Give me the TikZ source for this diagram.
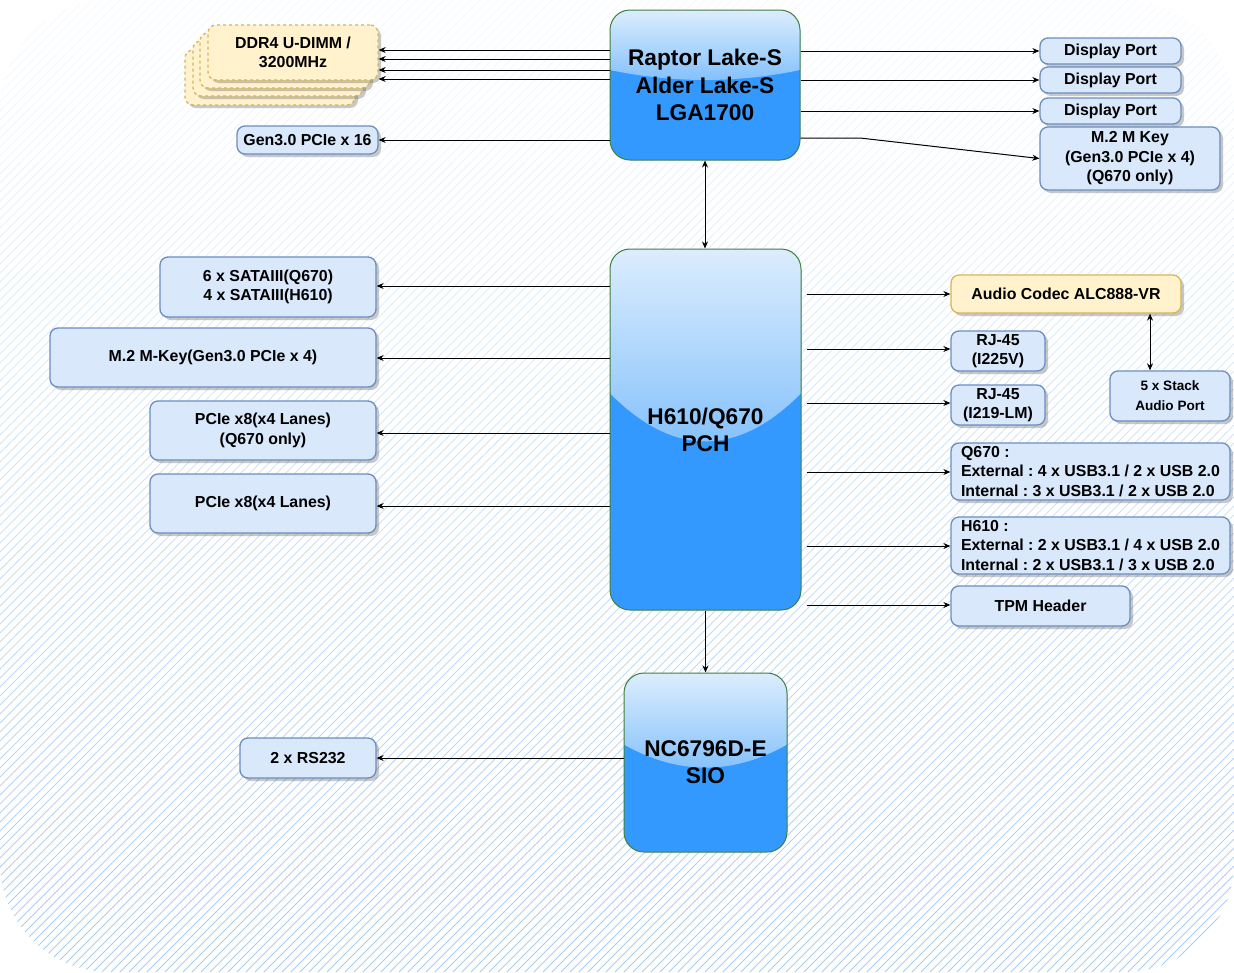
\documentclass[tikz,border=0pt]{standalone}
\usepackage{fontspec}
\setmainfont{Liberation Sans}
\usetikzlibrary{arrows.meta,shadows,calc}
\frenchspacing
\definecolor{boxfill}{HTML}{DAE8FC}
\definecolor{boxline}{HTML}{6C8EBF}
\definecolor{ylwfill}{HTML}{FFF2CC}
\definecolor{ylwline}{HTML}{D6B656}
\definecolor{chipblue}{HTML}{3399FF}
\definecolor{chipline}{HTML}{3F7F3F}
\definecolor{glasstop}{HTML}{DCEDFD}
\definecolor{glassbot}{HTML}{80BFFC}
\definecolor{hatch}{HTML}{A9CCF2}
\tikzset{
  shd/.style={drop shadow={shadow xshift=3pt,shadow yshift=-3pt,opacity=0.3,fill=black!70}},
  bx/.style={draw=boxline, fill=boxfill, line width=1.3pt, rounded corners=8pt, shd,
    font=\bfseries\fontsize{15.9}{19.5}\selectfont, align=center, inner sep=0pt},
  ylw/.style={draw=ylwline, fill=ylwfill, line width=1.3pt, rounded corners=8pt, shd,
    font=\bfseries\fontsize{15.9}{19.5}\selectfont, align=center, inner sep=0pt},
  chip/.style={draw=chipline, line width=1pt, fill=chipblue, rounded corners=20pt,
    font=\bfseries\fontsize{22.7}{27.2}\selectfont, align=center, inner sep=0pt,
    path picture={
      \coordinate (gA) at ($(path picture bounding box.north west)!0.4!(path picture bounding box.south west)$);
      \coordinate (gB) at ($(path picture bounding box.north east)!0.4!(path picture bounding box.south east)$);
      \fill[sharp corners, top color=glasstop, bottom color=glassbot]
        (path picture bounding box.north west) -- (path picture bounding box.north east) -- (gB)
        .. controls ($(gB)!0.333!(gA)+(0,{4*#1/3})$) and ($(gA)!0.333!(gB)+(0,{4*#1/3})$) .. (gA) -- cycle;
    }},
  arr/.style={-{Stealth[length=7pt,width=6pt]}, line width=1pt, black},
  arrb/.style={{Stealth[length=7pt,width=6pt]}-{Stealth[length=7pt,width=6pt]}, line width=1pt, black},
}
\begin{document}
\begin{tikzpicture}[x=1pt,y=-1pt]
\useasboundingbox (0,0) rectangle (1234,972);
\fill[white] (0,0) rectangle (1234,972);
% hatched background with vertical fade
\begin{scope}
  \clip[rounded corners=110pt] (0,0) rectangle (1234,972);
  \foreach \i in {0,...,17}{
    \pgfmathsetmacro{\yA}{\i*54}
    \pgfmathsetmacro{\yB}{\i*54+54}
    \pgfmathtruncatemacro{\pct}{10+90*\i/17}
    \begin{scope}
      \clip (0,\yA) rectangle (1234,\yB);
      \foreach \x in {-60,-51,...,1300}{
        \draw[hatch!\pct!white, line width=1pt] (\x,\yB) -- (\x+54,\yA);
      }
    \end{scope}
  }
\end{scope}

% chips
\node[chip=10, minimum width=190pt, minimum height=150pt] (cpu) at (705,85) {Raptor Lake-S\\Alder Lake-S\\LGA1700};
\node[chip=48, minimum width=191pt, minimum height=361pt] (pch) at (705.5,429.5) {H610/Q670\\PCH};
\node[chip=23, minimum width=163pt, minimum height=179pt] (sio) at (705.5,762.5) {NC6796D-E\\SIO};

% DDR stack
\node[ylw, dashed, minimum width=170pt, minimum height=55pt] (ddrc) at (270,77.5) {};
\node[ylw, dashed, minimum width=170pt, minimum height=55pt] (ddrb) at (278,68.5) {};
\node[ylw, dashed, minimum width=170pt, minimum height=55pt] (ddra) at (285,60.5) {};
\node[ylw, dashed, minimum width=170pt, minimum height=55pt] (ddr) at (293,52.5) {DDR4 U-DIMM /\\3200MHz};

% left boxes
\node[bx, minimum width=141pt, minimum height=28pt] (g16) at (307.5,140) {Gen3.0 PCIe x 16};
\node[bx, minimum width=216pt, minimum height=60pt] (sata) at (268,287) {6 x SATAIII(Q670)\\4 x SATAIII(H610)};
\node[bx, minimum width=326pt, minimum height=59pt] (m2l) at (213,357.5) {M.2 M-Key(Gen3.0 PCIe x 4)};
\node[bx, minimum width=226pt, minimum height=59pt] (pq) at (263,430.5) {PCIe x8(x4 Lanes)\\(Q670 only)};
\node[bx, minimum width=226pt, minimum height=59pt] (p8) at (263,503.5) {PCIe x8(x4 Lanes)};
\node[bx, minimum width=136pt, minimum height=40pt] (rs) at (308,758) {2 x RS232};

% right boxes
\node[bx, minimum width=141pt, minimum height=26pt] (dp1) at (1110.5,51) {Display Port};
\node[bx, minimum width=141pt, minimum height=26pt] (dp2) at (1110.5,80) {Display Port};
\node[bx, minimum width=141pt, minimum height=26pt] (dp3) at (1110.5,111) {Display Port};
\node[bx, minimum width=180pt, minimum height=63pt] (m2r) at (1130,158.5) {M.2 M Key\\(Gen3.0 PCIe x 4)\\(Q670 only)};
\node[ylw, minimum width=230pt, minimum height=38pt] (audio) at (1066,294) {Audio Codec ALC888-VR};
\node[bx, minimum width=94pt, minimum height=40pt] (rj1) at (998,351) {RJ-45\\(I225V)};
\node[bx, minimum width=94pt, minimum height=40pt] (rj2) at (998,405) {RJ-45\\(I219-LM)};
\node[bx, minimum width=120pt, minimum height=50pt, font=\bfseries\fontsize{13.6}{20}\selectfont] (stk) at (1170,396) {5 x Stack\\Audio Port};
\node[bx, minimum width=279pt, minimum height=57pt, align=left] (q670) at (1090.5,471.5) {Q670 :\\External : 4 x USB3.1 / 2 x USB 2.0\\Internal : 3 x USB3.1 / 2 x USB 2.0};
\node[bx, minimum width=279pt, minimum height=57pt, align=left] (h610) at (1090.5,545.5) {H610 :\\External : 2 x USB3.1 / 4 x USB 2.0\\Internal : 2 x USB3.1 / 3 x USB 2.0};
\node[bx, minimum width=179pt, minimum height=40pt] (tpm) at (1040.5,606) {TPM Header};

% connectors: CPU
\foreach \yy in {50,59,70,79}{
  \draw[arr] (cpu.west |- 0,\yy) -- (ddr.east |- 0,\yy);
}
\draw[arr] (cpu.west |- g16) -- (g16.east);
\draw[arr] (cpu.east |- dp1) -- (dp1.west);
\draw[arr] (cpu.east |- dp2) -- (dp2.west);
\draw[arr] (cpu.east |- dp3) -- (dp3.west);
\coordinate (m2bend) at (860,138);
\draw[arr] (cpu.east |- m2bend) -- (m2bend) -- (m2r.west);
\draw[arrb] (cpu.south) -- (cpu.south |- pch.north);

% connectors: PCH left
\draw[arr] (pch.west |- 0,286) -- (sata.east |- 0,286);
\draw[arr] (pch.west |- 0,358) -- (m2l.east |- 0,358);
\draw[arr] (pch.west |- 0,433) -- (pq.east |- 0,433);
\draw[arr] (pch.west |- 0,506) -- (p8.east |- 0,506);

% connectors: PCH right
\draw[arr] ($(pch.east |- 0,294)+(5,0)$) -- (audio.west |- 0,294);
\draw[arr] ($(pch.east |- 0,349)+(5,0)$) -- (rj1.west |- 0,349);
\draw[arr] ($(pch.east |- 0,403)+(5,0)$) -- (rj2.west |- 0,403);
\draw[arr] ($(pch.east |- 0,472)+(5,0)$) -- (q670.west |- 0,472);
\draw[arr] ($(pch.east |- 0,546)+(5,0)$) -- (h610.west |- 0,546);
\draw[arr] ($(pch.east |- 0,605)+(5,0)$) -- (tpm.west |- 0,605);

% connectors: lower
\draw[arr] (pch.south) -- (pch.south |- sio.north);
\draw[arr] (sio.west |- 0,758) -- (rs.east |- 0,758);
\draw[arrb] (audio.south -| 1150,0) -- (stk.north -| 1150,0);
\end{tikzpicture}
\end{document}
